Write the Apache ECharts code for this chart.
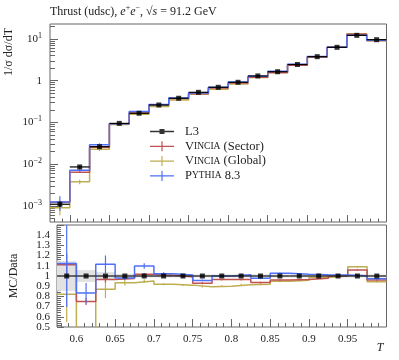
<!DOCTYPE html>
<html>
<head>
<meta charset="utf-8">
<script src="https://cdn.jsdelivr.net/npm/echarts@6/dist/echarts.min.js"></script>
<style>
html,body{margin:0;padding:0;background:#fff}
#chart{width:399px;height:360px}
</style>
</head>
<body>
<div id="chart"></div>
<script>
// bins in T
var binEdges = [0.575,0.6,0.625,0.65,0.675,0.7,0.725,0.75,0.775,0.8,0.825,0.85,0.875,0.9,0.925,0.95,0.975,1.0];

// L3 data and errors
var dataL3 = [0.0011,0.0086,0.0263,0.095,0.166,0.262,0.38,0.527,0.695,0.916,1.30,1.64,2.44,3.76,6.3,12.2,9.6];
var errL3  = [0.00016,0.0005,0.001,0.0019,0.0025,0.004,0.0057,0.008,0.01,0.014,0.02,0.025,0.037,0.056,0.09,0.18,0.14];

// MC predictions
var mcSector  = [0.00122,0.00645,0.0254,0.0926,0.169,0.264,0.377,0.490,0.671,0.884,1.216,1.574,2.355,3.677,6.30,12.91,9.22];
var errSector = [0.00012,0.0003,0.0008,0.001,0.0017,0.0026,0.0037,0.005,0.006,0.008,0.011,0.014,0.02,0.03,0.05,0.1,0.08];
var mcGlobal  = [0.000902,0.00378,0.0229,0.0888,0.1577,0.241,0.346,0.472,0.6255,0.838,1.196,1.555,2.338,3.704,6.30,13.30,9.07];
var errGlobal = [0.0003,0.00045,0.0023,0.0027,0.0032,0.0025,0.0035,0.005,0.006,0.008,0.011,0.014,0.02,0.03,0.05,0.1,0.08];
var mcPythia  = [0.001236,0.00716,0.0293,0.0931,0.1823,0.2678,0.3838,0.5043,0.695,0.928,1.270,1.684,2.481,3.809,6.363,12.24,9.33];
var errPythia = [0.00047,0.00086,0.0023,0.0019,0.0046,0.004,0.0035,0.005,0.006,0.008,0.011,0.014,0.02,0.03,0.05,0.1,0.08];

// ticks
var xMajor = [0.6,0.65,0.7,0.75,0.8,0.85,0.9,0.95];
var xMinor = [0.58,0.59,0.61,0.62,0.63,0.64,0.66,0.67,0.68,0.69,0.71,0.72,0.73,0.74,0.76,0.77,0.78,0.79,
              0.81,0.82,0.83,0.84,0.86,0.87,0.88,0.89,0.91,0.92,0.93,0.94,0.96,0.97,0.98,0.99];
var yMajor = [0.001,0.01,0.1,1,10];
var yMinor = [0.0005,0.0006,0.0007,0.0008,0.0009,
              0.002,0.003,0.004,0.005,0.006,0.007,0.008,0.009,
              0.02,0.03,0.04,0.05,0.06,0.07,0.08,0.09,
              0.2,0.3,0.4,0.5,0.6,0.7,0.8,0.9,
              2,3,4,5,6,7,8,9,20];
var rLabelsOdd  = [0.5,0.7,0.9,1.1,1.3];
var rLabelsEven = [0.6,0.8,1,1.2,1.4];

var cRed = '#c05252', cOlive = '#bfae50', cBlue = '#4f70f7';
var axisGrey = '#666';
var FONT = 'Liberation Serif';

var steps = function(vals){
    var pts = [];
    for (var i = 0; i < vals.length; i++) pts.push([binEdges[i], vals[i]]);
    pts.push([binEdges[vals.length], vals[vals.length-1]]);
    return pts;
};
var centre = function(i){ return (binEdges[i] + binEdges[i+1]) / 2; };
var ratio = function(vals){ return vals.map(function(v, i){ return v / dataL3[i]; }); };

var vbarItem = function(color, width){
    return function(params, api){
        var a = api.coord([api.value(0), api.value(1)]);
        var b = api.coord([api.value(0), api.value(2)]);
        return {type: 'line', shape: {x1: a[0], y1: a[1], x2: b[0], y2: b[1]},
                style: {stroke: color, lineWidth: width}};
    };
};
var hbarItem = function(color, width){
    return function(params, api){
        var a = api.coord([api.value(0), api.value(2)]);
        var b = api.coord([api.value(1), api.value(2)]);
        return {type: 'line', shape: {x1: a[0], y1: a[1], x2: b[0], y2: b[1]},
                style: {stroke: color, lineWidth: width}};
    };
};

var stepSeries = function(name, vals, color, xi, yi, z){
    return {name: name, type: 'line', step: 'end', data: steps(vals), xAxisIndex: xi, yAxisIndex: yi,
            showSymbol: false, symbol: 'none', clip: true, z: z, silent: true,
            itemStyle: {color: color}, lineStyle: {color: color, width: 1.5}};
};
var errSeries = function(name, vals, errs, color, xi, yi, z, scale){
    var d = vals.map(function(v, i){
        var s = scale ? scale[i] : 1;
        return [centre(i), (v - errs[i]) / s, (v + errs[i]) / s];
    });
    return {name: name, type: 'custom', xAxisIndex: xi, yAxisIndex: yi, clip: true, z: z, silent: true,
            encode: {x: 0, y: [1, 2]}, renderItem: vbarItem(color, 1.2), data: d};
};

var ratioOnes = dataL3.map(function(){ return 1; });

var series = [];
// ---- top panel ----
series.push(stepSeries('Vincia (Sector)', mcSector, cRed, 0, 0, 3));
series.push(errSeries('e1', mcSector, errSector, cRed, 0, 0, 3));
series.push(stepSeries('Vincia (Global)', mcGlobal, cOlive, 0, 0, 2));
series.push(errSeries('e2', mcGlobal, errGlobal, cOlive, 0, 0, 2));
series.push(stepSeries('Pythia 8.3', mcPythia, cBlue, 0, 0, 4));
series.push(errSeries('e3', mcPythia, errPythia, cBlue, 0, 0, 4));
series.push({name: 'dx', type: 'custom', xAxisIndex: 0, yAxisIndex: 0, clip: true, z: 5, silent: true,
    encode: {x: [0, 1], y: 2}, renderItem: hbarItem('#000', 1.2),
    data: dataL3.map(function(v, i){ return [binEdges[i], binEdges[i+1], v]; })});
series.push(errSeries('dy', dataL3, errL3, '#000', 0, 0, 5));
series.push({name: 'L3', type: 'scatter', xAxisIndex: 0, yAxisIndex: 0, symbol: 'rect', symbolSize: 5, z: 6,
    itemStyle: {color: '#000'}, silent: true,
    data: dataL3.map(function(v, i){ return [centre(i), v]; })});

// ---- ratio panel ----
series.push({name: 'band', type: 'custom', xAxisIndex: 2, yAxisIndex: 2, clip: true, z: 1, silent: true,
    encode: {x: [0, 1], y: [2, 3]},
    renderItem: function(params, api){
        var a = api.coord([api.value(0), api.value(3)]);
        var b = api.coord([api.value(1), api.value(2)]);
        return {type: 'rect', shape: {x: a[0], y: a[1], width: b[0] - a[0], height: b[1] - a[1]},
                style: {fill: '#e2e2e2'}};
    },
    data: dataL3.map(function(v, i){ return [binEdges[i], binEdges[i+1], 1 - errL3[i]/v, 1 + errL3[i]/v]; })});
series.push(stepSeries('rs', ratio(mcSector), cRed, 2, 2, 3));
series.push(errSeries('re1', mcSector, errSector, cRed, 2, 2, 3, dataL3));
series.push(stepSeries('rg', ratio(mcGlobal), cOlive, 2, 2, 2));
series.push(errSeries('re2', mcGlobal, errGlobal, cOlive, 2, 2, 2, dataL3));
series.push(stepSeries('rp', ratio(mcPythia), cBlue, 2, 2, 4));
series.push(errSeries('re3', mcPythia, errPythia, cBlue, 2, 2, 4, dataL3));
series.push({name: 'rdx', type: 'custom', xAxisIndex: 2, yAxisIndex: 2, clip: true, z: 5, silent: true,
    encode: {x: [0, 1], y: 2}, renderItem: hbarItem('#222', 1.3),
    data: ratioOnes.map(function(v, i){ return [binEdges[i], binEdges[i+1], v]; })});
series.push({name: 'rd', type: 'scatter', xAxisIndex: 2, yAxisIndex: 2, symbol: 'rect', symbolSize: 5, z: 6,
    itemStyle: {color: '#000'}, silent: true,
    data: ratioOnes.map(function(v, i){ return [centre(i), v]; })});

var tickLine = {color: axisGrey, width: 1};
var xAxisDef = function(gi, ticks, len, labels){
    return {type: 'value', gridIndex: gi, min: 0.575, max: 1.0, position: 'bottom',
        axisLine: {show: false}, splitLine: {show: false},
        axisTick: {show: true, inside: true, length: len, customValues: ticks, lineStyle: tickLine},
        axisLabel: labels ? {show: true, customValues: xMajor, margin: 7, color: '#222',
            fontFamily: FONT, fontSize: 11,
            formatter: function(v){ return String(+v.toFixed(3)); }} : {show: false}};
};
var ratioLabelAxis = function(vals){
    return {type: 'value', gridIndex: 1, min: 0.5, max: 1.5, position: 'left', offset: 0,
        axisLine: {show: false}, splitLine: {show: false}, axisTick: {show: false},
        axisLabel: {show: true, customValues: vals, showMinLabel: true, showMaxLabel: true,
            margin: 7, color: '#222', fontFamily: FONT, fontSize: 11,
            formatter: function(v){ return Math.abs(v - 1) < 1e-9 ? '1' : v.toFixed(1); }}};
};

var logLabel = function(v){
    var e = Math.round(Math.log10(v));
    if (e === 0) return '1';
    return '10{sup|' + (e < 0 ? '\u2212' + (-e) : e) + '}';
};

var option = {
    animation: false,
    backgroundColor: '#fff',
    title: {
        left: 50, top: 4, padding: 0,
        text: '{n|Thrust (udsc), }{i|e}{sup|+}{i|e}{sup|\u2212}{n|, \u221a}{i|s}{n| = 91.2 GeV}',
        textStyle: {fontWeight: 'normal', rich: {
            n: {fontFamily: FONT, fontSize: 12, fontWeight: 'normal', color: '#222'},
            i: {fontFamily: FONT, fontSize: 12, fontWeight: 'normal', fontStyle: 'italic', color: '#222'},
            sup: {fontFamily: FONT, fontSize: 8, fontWeight: 'normal', color: '#222', padding: [0, 0, 7, 0]}
        }}
    },
    grid: [
        {left: 50, top: 24, width: 336.5, height: 198, show: true, borderColor: axisGrey, borderWidth: 1, backgroundColor: 'transparent'},
        {left: 50, top: 225, width: 336.5, height: 102, show: true, borderColor: axisGrey, borderWidth: 1, backgroundColor: 'transparent'}
    ],
    xAxis: [
        xAxisDef(0, xMajor, 7, false),
        xAxisDef(0, xMinor, 3.5, false),
        Object.assign(xAxisDef(1, xMajor, 8, true), {
            name: 'T', nameLocation: 'end', nameGap: -3,
            nameTextStyle: {fontFamily: FONT, fontStyle: 'italic', fontSize: 12, color: '#222',
                align: 'right', verticalAlign: 'top', padding: [15, 0, 0, 0]}}),
        xAxisDef(1, xMinor, 4, false)
    ],
    yAxis: [
        {type: 'log', gridIndex: 0, min: 0.000413, max: 22.8, position: 'left',
            axisLine: {show: false}, splitLine: {show: false},
            axisTick: {show: true, inside: true, length: 8, customValues: yMajor, lineStyle: tickLine},
            axisLabel: {show: true, customValues: yMajor, margin: 8, color: '#222', formatter: logLabel,
                rich: {sup: {fontFamily: FONT, fontSize: 8, color: '#222', padding: [0, 0, 7, 0]}},
                fontFamily: FONT, fontSize: 11}},
        {type: 'log', gridIndex: 0, min: 0.000413, max: 22.8, position: 'left', offset: 0,
            axisLine: {show: false}, splitLine: {show: false},
            axisTick: {show: true, inside: true, length: 5, customValues: yMinor, lineStyle: tickLine},
            axisLabel: {show: false}},
        {type: 'value', gridIndex: 1, min: 0.5, max: 1.5, interval: 0.1, position: 'left',
            axisLine: {show: false}, splitLine: {show: false},
            axisTick: {show: true, inside: true, length: 7, lineStyle: tickLine},
            minorTick: {show: true, splitNumber: 5, length: 4, lineStyle: tickLine},
            axisLabel: {show: false},
            name: 'MC/Data', nameLocation: 'middle', nameGap: 37,
            nameTextStyle: {fontFamily: FONT, fontSize: 12, color: '#222'}},
        ratioLabelAxis(rLabelsOdd),
        ratioLabelAxis(rLabelsEven)
    ],
    legend: {
        orient: 'vertical', left: 150, top: 125, padding: 0, itemWidth: 24, itemHeight: 10, itemGap: 1.8,
        selectedMode: false,
        data: [
            {name: 'L3', icon: 'path://M0,0M0,10M0,4.3h24v1.4h-24zM9.5,2.5h5v5h-5z'},
            {name: 'Vincia (Sector)', icon: 'path://M0,4.4h24v1.2h-24zM11.4,0h1.2v10h-1.2z'},
            {name: 'Vincia (Global)', icon: 'path://M0,4.4h24v1.2h-24zM11.4,0h1.2v10h-1.2z'},
            {name: 'Pythia 8.3', icon: 'path://M0,4.4h24v1.2h-24zM11.4,0h1.2v10h-1.2z'}
        ],
        formatter: function(name){
            if (name === 'L3') return '{a|L3}';
            if (name === 'Pythia 8.3') return '{a|P}{s|YTHIA}{a| 8.3}';
            return '{a|V}{s|INCIA}{a|' + name.substring(6) + '}';
        },
        textStyle: {padding: [0, 0, 0, 6], rich: {
            a: {fontFamily: FONT, fontSize: 12.5, color: '#222', lineHeight: 12},
            s: {fontFamily: FONT, fontSize: 9.5, color: '#222', lineHeight: 12}
        }}
    },
    graphic: [{
        type: 'text', x: 9, y: 52, rotation: Math.PI / 2,
        style: {text: '1/\u03c3 d\u03c3/dT', fontFamily: FONT, fontSize: 12, fill: '#222',
            align: 'center', verticalAlign: 'middle'}
    }],
    series: series
};

var myChart = echarts.init(document.getElementById('chart'));
myChart.setOption(option);
</script>
</body>
</html>
